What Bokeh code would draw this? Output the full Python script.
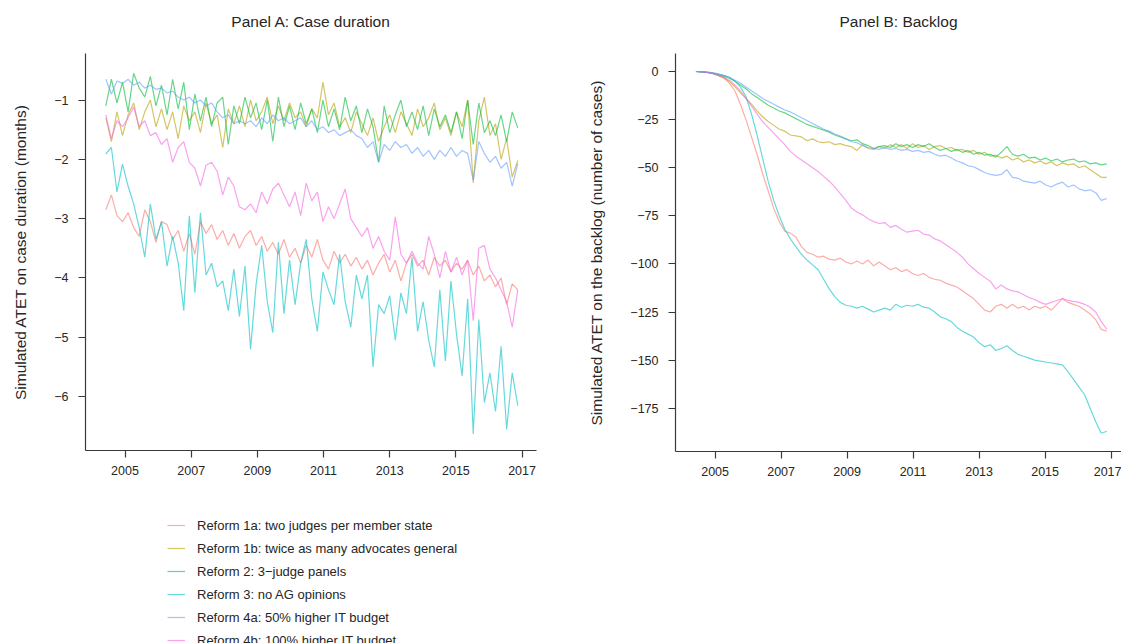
import numpy as np
from bokeh.plotting import figure
from bokeh.models import Range1d, FixedTicker, Legend, LegendItem
from bokeh.layouts import row, column
from bokeh.embed import file_html
from bokeh.resources import INLINE

# ---------------- data ----------------
labels = [
    "Reform 1a: two judges per member state",
    "Reform 1b: twice as many advocates general",
    "Reform 2: 3\u2212judge panels",
    "Reform 3: no AG opinions",
    "Reform 4a: 50% higher IT budget",
    "Reform 4b: 100% higher IT budget",
]
colors = ["#F8766D", "#B79F00", "#00BA38", "#00BFC4", "#619CFF", "#F564E3"]

t_start, t_end, n_obs = 2004.42, 2016.87, 75
years = np.linspace(t_start, t_end, n_obs)

x_ticks = [2005, 2007, 2009, 2011, 2013, 2015, 2017]
dur_ticks = [-1, -2, -3, -4, -5, -6]
blog_ticks = [0, -25, -50, -75, -100, -125, -150, -175]

# Panel A: case duration (months)
dur_1a = [-2.85, -2.60, -2.95, -3.05, -2.90, -3.15, -3.30, -2.85, -3.05, -3.40,
          -3.05, -3.10, -3.35, -3.20, -3.55, -3.25, -3.60, -3.05, -3.25, -3.10,
          -3.35, -3.20, -3.45, -3.25, -3.50, -3.30, -3.20, -3.45, -3.30, -3.55,
          -3.40, -3.60, -3.35, -3.65, -3.50, -3.75, -3.45, -3.65, -3.35, -3.70,
          -3.85, -3.55, -3.75, -3.60, -3.80, -3.65, -3.85, -3.70, -3.95, -3.75,
          -3.60, -3.90, -3.70, -4.05, -3.75, -3.60, -3.80, -3.70, -3.95, -3.65,
          -3.80, -3.70, -3.90, -3.75, -3.85, -3.70, -3.95, -3.80, -4.05, -3.95,
          -4.15, -4.00, -4.45, -4.10, -4.20]
dur_1b = [-1.30, -1.70, -1.20, -1.60, -1.25, -1.05, -1.50, -1.20, -1.00, -1.45,
          -1.15, -1.50, -1.20, -1.65, -1.10, -1.35, -1.20, -1.55, -1.05, -1.40,
          -1.25, -1.80, -1.15, -1.40, -1.10, -1.45, -1.00, -1.35, -1.20, -0.95,
          -1.40, -1.10, -1.35, -1.05, -1.30, -1.20, -1.45, -1.15, -1.30, -0.70,
          -1.25, -1.05, -1.45, -1.30, -1.55, -1.20, -1.40, -1.60, -1.30, -1.70,
          -1.45, -1.25, -1.55, -1.20, -1.40, -1.60, -1.15, -1.45, -1.30, -1.05,
          -1.50, -1.30, -1.60, -1.20, -1.45, -1.00, -2.40, -1.35, -0.95, -1.60,
          -1.40, -2.00, -1.65, -2.30, -2.02]
dur_2 = [-1.10, -0.65, -1.05, -0.70, -1.20, -0.55, -0.80, -0.95, -0.60, -1.10,
         -0.75, -1.25, -0.65, -1.15, -0.70, -1.50, -0.90, -1.35, -0.95, -1.45,
         -1.05, -0.95, -1.75, -1.10, -1.40, -0.95, -1.30, -1.05, -1.50, -1.00,
         -1.70, -0.95, -1.45, -1.10, -1.50, -1.05, -1.40, -1.15, -1.55, -1.00,
         -1.45, -1.15, -1.50, -0.95, -1.35, -1.10, -1.55, -1.15, -1.45, -2.05,
         -1.10, -1.55, -1.25, -1.00, -1.45, -1.20, -1.50, -1.10, -1.60, -1.15,
         -1.45, -1.25, -1.55, -1.20, -1.65, -1.00, -1.75, -1.05, -1.55, -1.35,
         -1.60, -1.25, -1.70, -1.20, -1.47]
dur_3 = [-1.91, -1.80, -2.55, -2.08, -2.45, -2.75, -3.15, -3.65, -2.75, -3.35,
         -3.05, -3.80, -3.30, -3.75, -4.55, -2.95, -4.25, -2.90, -3.95, -3.75,
         -4.15, -4.05, -4.55, -3.85, -4.65, -3.80, -5.20, -4.10, -3.45, -4.40,
         -4.92, -3.40, -4.60, -3.70, -4.45, -3.75, -3.35, -4.35, -4.90, -3.90,
         -4.20, -4.45, -3.60, -4.40, -4.83, -3.95, -4.35, -3.95, -5.50, -4.45,
         -4.60, -4.30, -5.05, -4.25, -4.60, -3.65, -4.90, -4.40, -5.05, -5.50,
         -4.20, -5.40, -4.05, -4.95, -5.65, -4.35, -6.63, -4.70, -6.10, -5.60,
         -6.25, -5.15, -6.55, -5.60, -6.15]
dur_4a = [-0.65, -0.90, -0.68, -0.72, -0.65, -0.75, -0.70, -0.80, -0.75, -0.82,
          -0.80, -0.88, -0.85, -0.95, -1.00, -0.95, -1.05, -1.00, -1.10, -1.05,
          -1.20, -1.30, -1.25, -1.40, -1.35, -1.40, -1.35, -1.45, -1.30, -1.40,
          -1.25, -1.35, -1.30, -1.40, -1.35, -1.30, -1.45, -1.35, -1.50, -1.45,
          -1.55, -1.50, -1.60, -1.55, -1.50, -1.60, -1.65, -1.80, -1.70, -2.05,
          -1.75, -1.85, -1.70, -1.80, -1.75, -1.90, -1.80, -1.95, -1.85, -2.00,
          -1.85, -1.95, -1.80, -1.95, -1.85, -1.90, -2.35, -1.70, -1.90, -2.05,
          -1.95, -2.15, -2.05, -2.45, -2.07]
dur_4b = [-1.25, -1.65, -1.35, -1.45, -1.30, -1.12, -1.45, -1.35, -1.60, -1.55,
          -1.75, -1.65, -2.05, -1.80, -1.70, -2.05, -2.15, -2.45, -2.10, -2.05,
          -2.20, -2.60, -2.30, -2.45, -2.80, -2.85, -2.75, -2.90, -2.55, -2.75,
          -2.50, -2.40, -2.60, -2.80, -2.55, -2.95, -2.40, -2.70, -2.55, -3.05,
          -2.80, -3.00, -2.75, -2.50, -3.00, -3.15, -3.30, -3.15, -3.50, -3.30,
          -3.55, -3.70, -2.97, -3.60, -3.75, -3.55, -3.75, -3.85, -3.30, -3.60,
          -4.00, -3.55, -3.90, -3.65, -3.95, -3.70, -4.72, -3.50, -3.45, -3.85,
          -4.00, -4.20, -4.40, -4.83, -4.20]

# Panel B: backlog (number of cases)
blog_1a = [0, 0, -0.5, -1, -2, -3, -6, -10, -17, -25,
           -34, -43, -53, -62, -71, -78, -83, -84, -86, -91,
           -94, -95, -96.5, -96, -97.5, -98, -97, -99, -100, -98.5,
           -100, -98, -101, -99, -101, -103, -102, -104, -103, -105,
           -106, -105, -107, -108, -108.5, -110, -111, -112, -114, -116,
           -118, -121, -124, -125, -122, -121, -123, -121, -123, -122,
           -124, -122, -123, -122, -124, -121, -118, -120, -121, -122,
           -124, -126, -129, -134, -135]
blog_1b = [0, -0.2, -0.5, -1, -2, -3.5, -5, -8, -11, -14,
           -17, -20.5, -23.5, -26, -28, -30, -31, -33, -33.5, -34,
           -36, -35, -36.5, -37, -36.5, -38, -37.5, -38.5, -39, -41,
           -38, -40, -40.5, -39, -40, -38, -39.5, -38, -40, -37.5,
           -39.5, -38.5, -40.5, -39, -38.5, -40, -39.5, -41, -40.5, -42,
           -41, -43, -42, -44, -43.5, -45, -44, -46, -45, -47,
           -46, -47.5, -46.5, -48, -47, -49, -47.5, -48.5, -48, -50,
           -49, -51, -53, -55, -55]
blog_2 = [0, -0.2, -0.3, -0.8, -1.5, -2.5, -3.5, -5, -7, -9,
          -11.5, -13.5, -15.5, -17.5, -19, -20.5, -21.5, -23, -24.5, -26,
          -27.5, -28.5, -29.5, -30.5, -31.5, -33, -34, -35, -36, -35.5,
          -37.5, -38.5, -40, -39, -38.5, -39.5, -37.5, -39, -38, -39.5,
          -38, -39, -37.5, -39.5, -41, -40, -41.5, -40.5, -42, -41,
          -43, -42, -43.5, -43, -44.5, -42, -39, -43, -44, -43,
          -45, -44.5, -46, -45, -46.5, -45.5, -47, -46, -45.5, -47,
          -46.5, -48, -47.5, -48.5, -48]
blog_3 = [0, -0.3, -0.5, -1, -1.5, -2, -3, -5, -8, -13,
          -22, -33, -45, -57, -67, -75, -82, -87, -91, -95,
          -98, -100.5, -103, -108, -113, -117, -120, -121.5, -122, -123,
          -122, -123.5, -125, -124, -123, -124, -121, -122.5, -121.5, -122,
          -121, -122.5, -123, -125, -127.5, -128.5, -130, -133, -135, -136.5,
          -138, -141, -143, -142, -145, -144, -142.5, -145, -147, -148,
          -149, -150, -150.5, -151, -151.5, -152, -152.5, -156, -160, -164,
          -168, -175, -182, -188, -187]
blog_4a = [0, -0.2, -0.3, -0.6, -1.2, -2, -3, -4.5, -6, -8,
           -10, -12, -14, -15.5, -17, -18.5, -20, -21, -22.5, -24,
           -25.5, -27, -28.5, -30, -31, -32.5, -33.5, -35, -36.5, -37,
           -38.5, -39.5, -40, -40.5, -39.5, -40.5, -40, -41, -40.5, -41.5,
           -41, -42, -41.5, -43, -44, -43.5, -45, -46.5, -47.5, -49,
           -49.5, -51, -52.5, -53.5, -54, -53.5, -51, -55, -55.5, -57,
           -57.5, -58, -57, -59, -60, -58.5, -57.5, -60, -59, -61,
           -62, -61.5, -63, -67, -66]
blog_4b = [0, -0.2, -0.5, -1, -2, -3, -4.5, -7, -10, -14,
           -18, -22, -26, -29, -32, -35, -38, -41.5, -44, -46,
           -48, -50, -52, -54.5, -57, -60, -63.5, -67, -71, -73,
           -74.5, -76.5, -78, -79, -78.5, -81, -80, -82, -83.5, -83,
           -82.5, -84.5, -85, -87, -88, -90, -92, -94, -96.5, -100,
           -102.5, -105, -107, -109, -113, -111, -113, -114, -114.5, -116,
           -117.5, -118.5, -120, -121, -120, -119, -118, -119, -119.5, -120,
           -121, -122.5, -125, -130, -134]

duration = [dur_1a, dur_1b, dur_2, dur_3, dur_4a, dur_4b]
backlog = [blog_1a, blog_1b, blog_2, blog_3, blog_4a, blog_4b]

# ---------------- styling helpers ----------------
FONT = "Liberation Sans"
TXT = "#262626"
AX = "#3a3a3a"
ALPHA = 0.6


def style(p, yticks, ylabel):
    p.xaxis.ticker = FixedTicker(ticks=x_ticks)
    p.yaxis.ticker = FixedTicker(ticks=yticks)
    p.yaxis.major_label_overrides = {v: str(v).replace("-", "\u2212") for v in yticks}
    p.xgrid.visible = False
    p.ygrid.visible = False
    p.outline_line_color = None
    p.background_fill_color = "white"
    p.border_fill_color = "white"
    for ax in (p.xaxis[0], p.yaxis[0]):
        ax.axis_line_color = AX
        ax.axis_line_width = 1.2
        ax.major_tick_line_color = AX
        ax.major_tick_line_width = 1.2
        ax.major_tick_out = 7
        ax.major_tick_in = 0
        ax.minor_tick_out = 0
        ax.minor_tick_in = 0
        ax.major_label_text_font = FONT
        ax.major_label_text_font_size = "12.5px"
        ax.major_label_text_color = TXT
        ax.axis_label_text_font = FONT
        ax.axis_label_text_font_size = "15.5px"
        ax.axis_label_text_font_style = "normal"
        ax.axis_label_text_color = TXT
    p.xaxis.major_label_standoff = 8
    p.yaxis.major_label_standoff = 10
    p.yaxis.axis_label = ylabel
    p.yaxis.axis_label_standoff = 22
    p.title.align = "center"
    p.title.vertical_align = "bottom"
    p.title.text_font = FONT
    p.title.text_font_size = "15.5px"
    p.title.text_font_style = "normal"
    p.title.text_color = TXT
    p.title.standoff = 13


# ---------------- Panel A ----------------
pA = figure(width=580, height=490, output_backend="svg", toolbar_location=None,
            title="Panel A: Case duration\n",
            x_range=Range1d(2003.806, 2017.436), y_range=Range1d(-6.908, -0.216),
            min_border_left=85, min_border_right=44, min_border_top=53,
            min_border_bottom=40)
style(pA, dur_ticks, "Simulated ATET on case duration (months)")
for col, ys in zip(colors, duration):
    pA.line(years, ys, line_color=col, line_width=1.2, line_alpha=ALPHA)

# ---------------- legend strip under Panel A ----------------
# (its renderers carry the same series but lie outside this strip's view)
pL = figure(width=580, height=153, output_backend="svg", toolbar_location=None,
            x_range=Range1d(0, 1), y_range=Range1d(0, 1),
            x_axis_location=None, y_axis_location=None,
            min_border_left=0, min_border_right=0, min_border_top=0,
            min_border_bottom=0)
pL.xgrid.visible = False
pL.ygrid.visible = False
pL.outline_line_color = None
pL.border_fill_color = "white"
items = []
for lab, col, ys in zip(labels, colors, duration):
    r = pL.line(years, ys, line_color=col, line_width=1.2, line_alpha=ALPHA)
    items.append(LegendItem(label=lab, renderers=[r], index=0))
leg = Legend(items=items, location=(82, -7), border_line_color=None,
             background_fill_alpha=0, padding=0, margin=0, spacing=3,
             glyph_width=18, glyph_height=20, label_height=20, label_standoff=12,
             label_text_font=FONT, label_text_font_size="13px",
             label_text_color=TXT)
pL.add_layout(leg, "center")

# ---------------- Panel B ----------------
pB = figure(width=541, height=643, output_backend="svg", toolbar_location=None,
            title="Panel B: Backlog\n",
            x_range=Range1d(2003.80, 2017.315), y_range=Range1d(-197.5, 9.36),
            min_border_left=95, min_border_right=0, min_border_top=53,
            min_border_bottom=192)
style(pB, blog_ticks, "Simulated ATET on the backlog (number of cases)")
for col, ys in zip(colors, backlog):
    pB.line(years, ys, line_color=col, line_width=1.2, line_alpha=ALPHA)

layout = row(column(pA, pL, spacing=0), pB, spacing=0)
open("out.html", "w").write(file_html(layout, INLINE))
